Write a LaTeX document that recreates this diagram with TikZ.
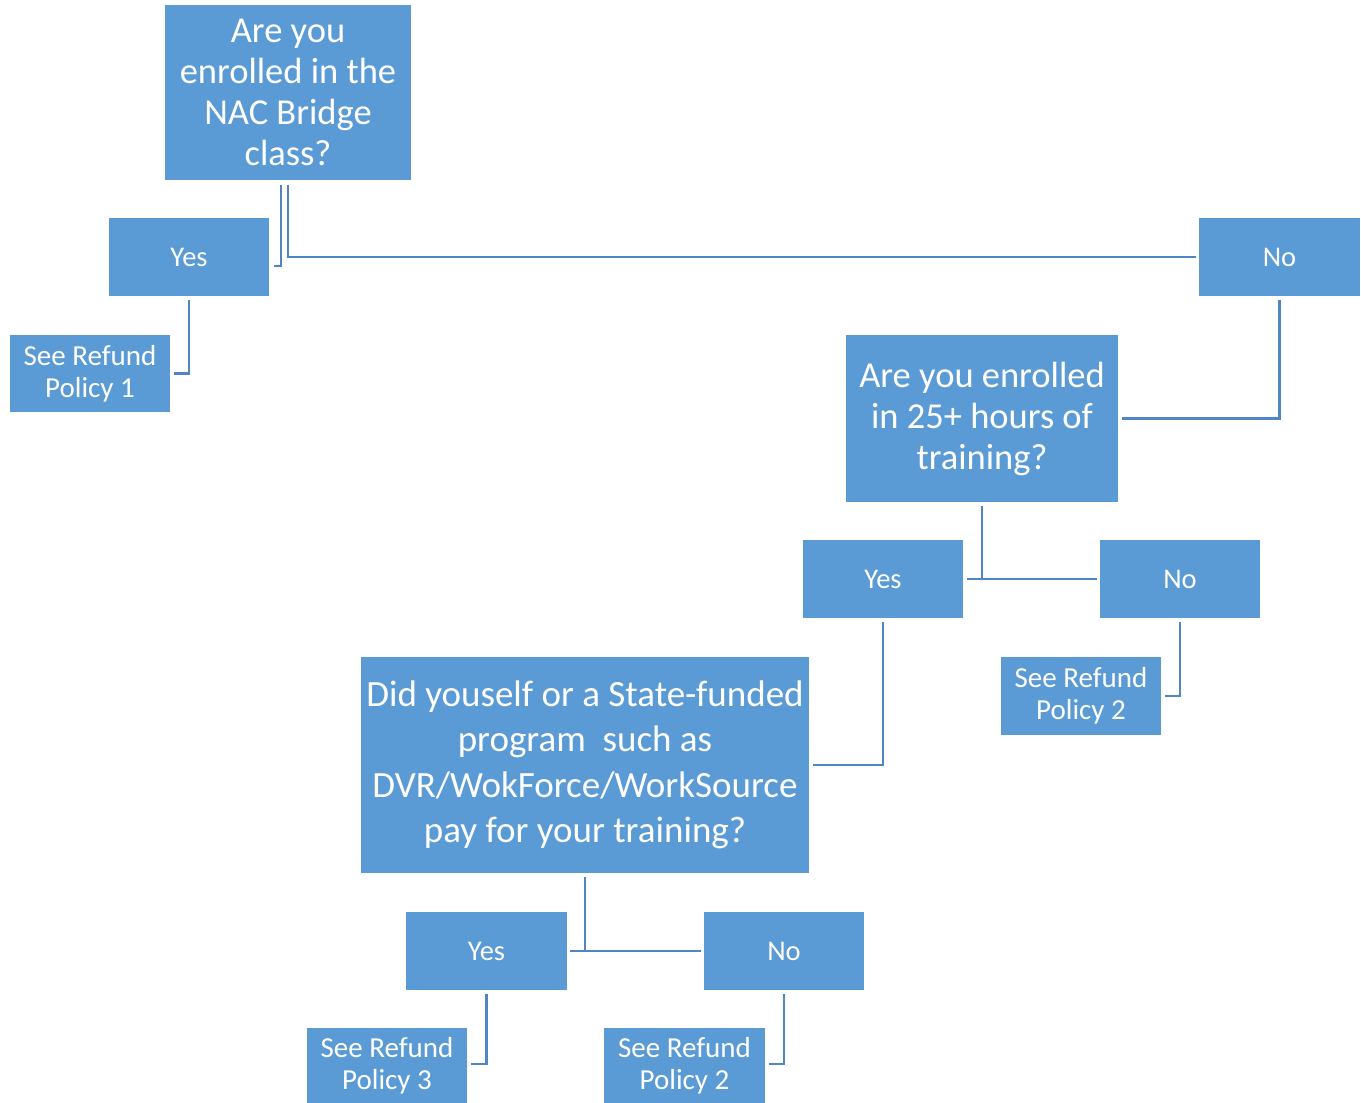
\documentclass[tikz,border=0pt]{standalone}
\usepackage{fontspec}
\setmainfont{Carlito}
\definecolor{boxfill}{HTML}{5B9BD5}
\definecolor{linecol}{HTML}{4F86C3}
\begin{document}
\begin{tikzpicture}[x=1pt,y=-1pt,
  box/.style={draw=none,fill=boxfill,text=white,align=center,inner sep=0pt},
  qbig/.style={box,font=\fontsize{36.5}{41}\selectfont},
  qhuge/.style={box,font=\fontsize{37}{45.5}\selectfont},
  ans/.style={box,minimum width=160pt,minimum height=78pt,font=\fontsize{28.5}{32}\selectfont},
  ref/.style={box,minimum width=160pt,font=\fontsize{29}{32}\selectfont},
  conn/.style={draw=linecol,line width=2.5pt}]
\useasboundingbox (0,0) rectangle (1361,1103);
% boxes
\node[qbig,minimum width=246pt,minimum height=175pt] (q1) at (288,92.5) {Are you\\enrolled in the\\NAC Bridge\\class?};
\node[ans] (yes1) at (189,257) {Yes};
\node[ans,minimum width=161pt] (no1) at (1279.5,257) {No};
\node[ref,minimum height=77pt] (ref1) at (90,373.5) {See Refund\\Policy 1};
\node[qbig,minimum width=272pt,minimum height=167pt] (q2) at (982,418.5) {Are you enrolled\\in 25+ hours of\\training?};
\node[ans] (yes2) at (883,579) {Yes};
\node[ans] (no2) at (1180,579) {No};
\node[ref,minimum height=78pt] (ref2a) at (1081,696) {See Refund\\Policy 2};
\node[qhuge,minimum width=448pt,minimum height=216pt] (q3) at (585,765) {Did youself or a State-funded\\program\ \ such as\\DVR/WokForce/WorkSource\\pay for your training?};
\node[ans,minimum width=161pt] (yes3) at (486.5,951) {Yes};
\node[ans] (no3) at (784,951) {No};
\node[ref,minimum height=75pt] (ref3) at (387,1065.5) {See Refund\\Policy 3};
\node[ref,minimum width=161pt,minimum height=75pt] (ref2b) at (684.5,1065.5) {See Refund\\Policy 2};
% connectors
\draw[conn] ([xshift=-7pt,yshift=-5pt]q1.south) |- ([xshift=5pt,yshift=-9pt]yes1.east);
\draw[conn] ([yshift=-5pt]q1.south) |- ([xshift=-3pt]no1.west);
\draw[conn] ([yshift=-4pt]yes1.south) |- ([xshift=4pt]ref1.east);
\draw[conn] ([yshift=-4pt]no1.south) |- ([xshift=4pt]q2.east);
\draw[conn] ([yshift=-4pt]q2.south) -- (q2.south |- yes2.east);
\draw[conn] ([xshift=4pt]yes2.east) -- ([xshift=-3pt]no2.west);
\draw[conn] ([yshift=-4pt]yes2.south) |- ([xshift=4pt]q3.east);
\draw[conn] ([yshift=-4pt]no2.south) |- ([xshift=4pt]ref2a.east);
\draw[conn] ([yshift=-4pt]q3.south) -- (q3.south |- yes3.east);
\draw[conn] ([xshift=3pt]yes3.east) -- ([xshift=-3pt]no3.west);
\draw[conn] ([yshift=-4pt]yes3.south) |- ([xshift=4pt,yshift=1.5pt]ref3.east);
\draw[conn] ([yshift=-4pt]no3.south) |- ([xshift=4pt,yshift=1.5pt]ref2b.east);
\end{tikzpicture}
\end{document}
